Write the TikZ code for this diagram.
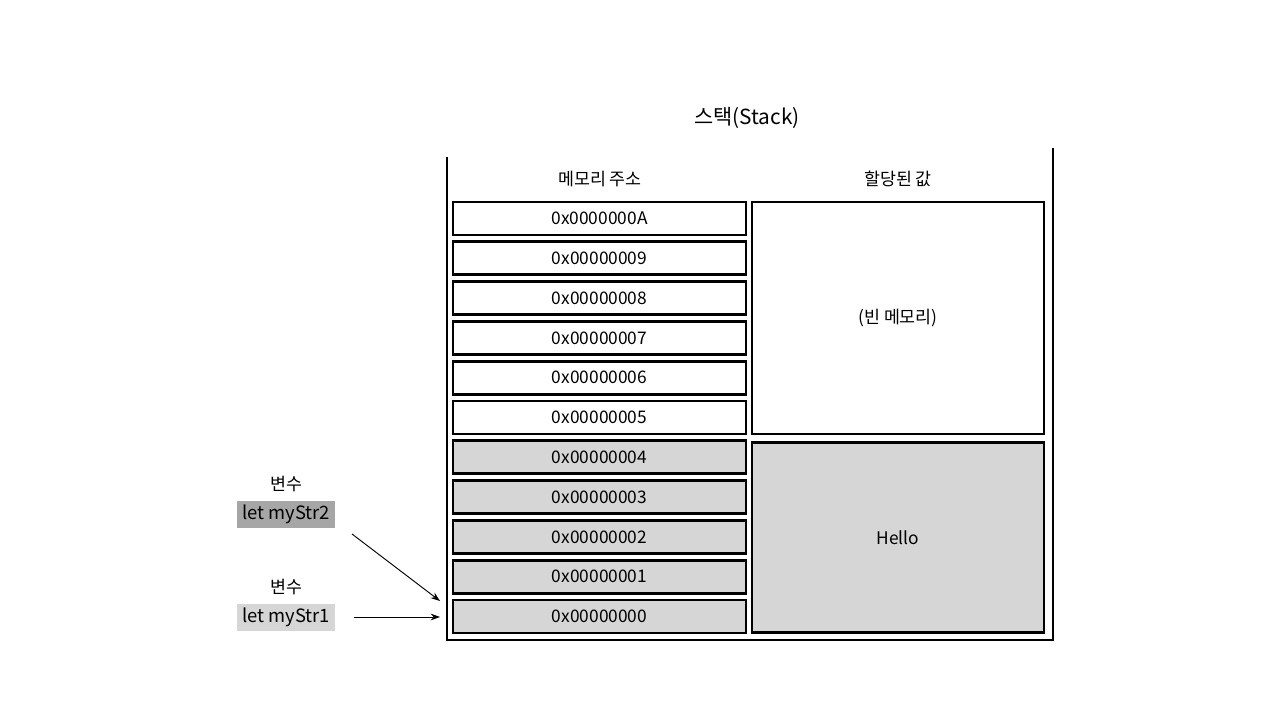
\documentclass[tikz,border=0pt]{standalone}
\usepackage{fontspec}
\setmainfont{Noto Sans CJK KR}
\usetikzlibrary{arrows.meta}
\definecolor{lightfill}{HTML}{D6D6D6}
\definecolor{darkfill}{HTML}{A6A6A6}
\tikzset{
  cell/.style={draw=black, line width=2pt, minimum width=293*0.75pt, minimum height=33*0.75pt, inner sep=0pt, font=\fontsize{13}{15}\selectfont},
  bigcell/.style={draw=black, line width=2pt, inner sep=0pt, font=\fontsize{13}{15}\selectfont},
  hdr/.style={font=\fontsize{13}{15}\selectfont, inner sep=0pt},
  var/.style={inner sep=0pt, minimum width=98*0.75pt, minimum height=27*0.75pt, font=\fontsize{13.8}{16}\selectfont},
  wall/.style={line width=2.2pt},
  ptr/.style={-{Stealth[length=7pt,width=5pt]}, line width=0.7pt}
}
\begin{document}
\begin{tikzpicture}[x=0.75pt,y=-0.75pt]
\useasboundingbox (0,0) rectangle (1280,720);
\node[font=\fontsize{15.6}{18}\selectfont] (title) at (747,118) {스택(Stack)};
% container walls
\coordinate (wl) at (447,157);
\coordinate (wbl) at (447,640);
\coordinate (wbr) at (1053,640);
\coordinate (wr) at (1053,148);
\draw[wall] (wl) -- (wbl) -- (wbr) -- (wr);
\node[hdr] (h1) at (600,179) {메모리 주소};
\node[hdr] (h2) at (898,179) {할당된 값};
% address cells
\foreach \i/\lab in {10/0x0000000A,9/0x00000009,8/0x00000008,7/0x00000007,6/0x00000006,5/0x00000005}{
  \node[cell] (a\i) at (599.5,{218.5+(10-\i)*39.8}) {\lab};
}
\foreach \i/\lab in {4/0x00000004,3/0x00000003,2/0x00000002,1/0x00000001,0/0x00000000}{
  \node[cell, fill=lightfill] (a\i) at (599.5,{218.5+(10-\i)*39.8}) {\lab};
}
\node[bigcell, minimum width=292*0.75pt, minimum height=232*0.75pt] (empty) at (898,318) {(빈 메모리)};
\node[bigcell, fill=lightfill, minimum width=292*0.75pt, minimum height=190*0.75pt] (hello) at (898,537.5) {Hello};
% variables
\node[hdr] (v2l) at (286,484) {변수};
\node[var, fill=darkfill] (v2) at (286,514.5) {let myStr2};
\node[hdr] (v1l) at (286,587) {변수};
\node[var, fill=lightfill] (v1) at (286,617) {let myStr1};
\coordinate (p2s) at (352,534);
\coordinate (p2e) at (440,601);
\coordinate (p1s) at (354,617);
\coordinate (p1e) at (440,617);
\draw[ptr] (p2s) -- (p2e);
\draw[ptr] (p1s) -- (p1e);
\end{tikzpicture}
\end{document}
